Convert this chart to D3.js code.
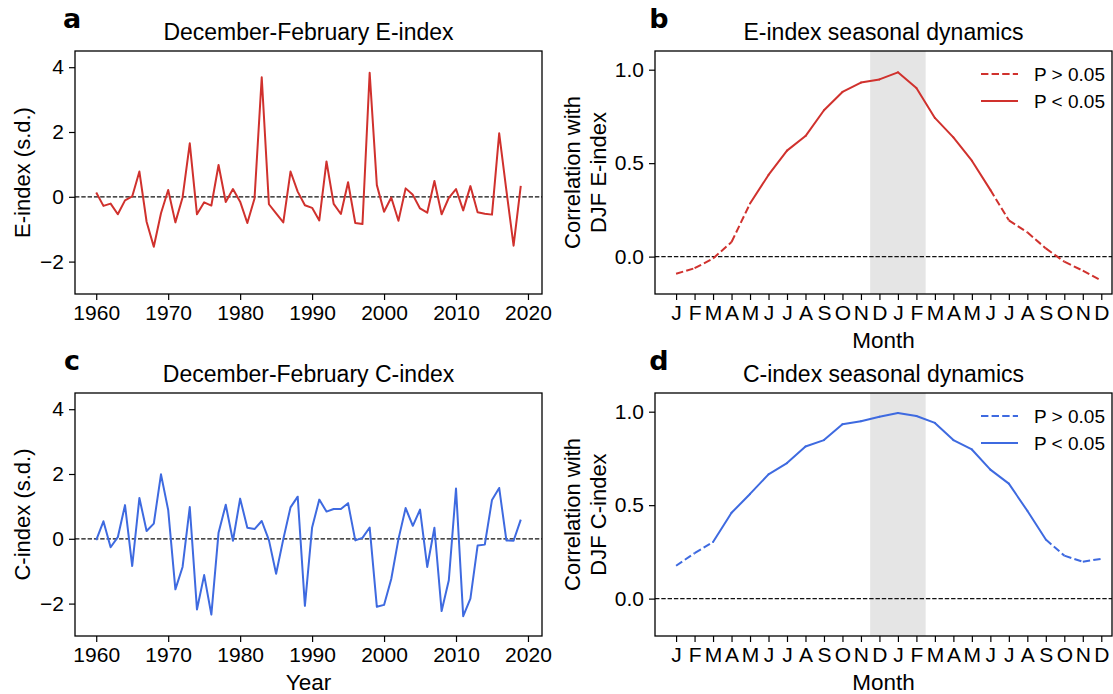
<!DOCTYPE html>
<html>
<head>
<meta charset="utf-8">
<script src="https://cdn.jsdelivr.net/npm/d3@7"></script>
<style>
  body { margin: 0; background: #fff; }
  text { font-family: "Liberation Sans", Arial, Helvetica, sans-serif; fill: #000; }
  .axis path, .axis line { stroke: #000; stroke-width: 1.2; }
  .axis text { font-size: 21px; }
</style>
</head>
<body>
<div id="canvas"></div>
<script>
const w = 1113, h = 694;

// DJF indices, 1960-2019
const years = d3.range(1960, 2020);
const eIndex = [0.13, -0.28, -0.21, -0.54, -0.11, 0.01, 0.78, -0.77, -1.54, -0.51,
  0.21, -0.79, -0.02, 1.65, -0.54, -0.17, -0.27, 0.98, -0.16, 0.24,
  -0.15, -0.81, -0.05, 3.69, -0.23, -0.51, -0.79, 0.78, 0.16, -0.26,
  -0.34, -0.73, 1.09, -0.22, -0.53, 0.45, -0.81, -0.84, 3.83, 0.36,
  -0.46, -0.02, -0.74, 0.26, 0.06, -0.36, -0.49, 0.49, -0.54, -0.03,
  0.24, -0.42, 0.33, -0.48, -0.52, -0.55, 1.96, 0.2, -1.51, 0.34];
const cIndex = [-0.04, 0.54, -0.26, 0.05, 1.04, -0.84, 1.26, 0.24, 0.47, 1.99,
  0.89, -1.56, -0.87, 0.98, -2.18, -1.12, -2.34, 0.19, 1.05, -0.06,
  1.24, 0.34, 0.30, 0.55, -0.04, -1.08, -0.01, 0.97, 1.30, -2.07,
  0.35, 1.21, 0.84, 0.92, 0.92, 1.10, -0.05, 0.03, 0.35, -2.10,
  -2.04, -1.24, -0.01, 0.95, 0.40, 0.90, -0.87, 0.34, -2.23, -1.28,
  1.55, -2.39, -1.85, -0.21, -0.18, 1.20, 1.57, -0.05, -0.06, 0.59];

// seasonal correlation with DJF index, two calendar years
const months = ["J","F","M","A","M","J","J","A","S","O","N","D",
                "J","F","M","A","M","J","J","A","S","O","N","D"];
const eCorr = [-0.092, -0.062, -0.01, 0.078, 0.284, 0.437, 0.567, 0.645, 0.783, 0.881, 0.931, 0.948,
               0.986, 0.902, 0.742, 0.638, 0.513, 0.357, 0.194, 0.130, 0.044, -0.027, -0.075, -0.128];
const eSig  = [0,0,0,0,1,1,1,1,1,1,1,1, 1,1,1,1,1,1,0,0,0,0,0,0];
const cCorr = [0.176, 0.243, 0.303, 0.459, 0.560, 0.665, 0.725, 0.814, 0.848, 0.933, 0.949, 0.973,
               0.993, 0.977, 0.940, 0.848, 0.798, 0.690, 0.615, 0.470, 0.316, 0.230, 0.197, 0.213];
const cSig  = [0,0,1,1,1,1,1,1,1,1,1,1, 1,1,1,1,1,1,1,1,1,0,0,0];
const djf = [10.5, 13.5];

const red = "#d0312d", blue = "#3e6ae0";
const yearTicks = [1960, 1970, 1980, 1990, 2000, 2010, 2020];
const indexTicks = [-2, 0, 2, 4];
const corrTicks = [0, 0.5, 1.0];

let svg = d3.select("#canvas").append("svg")
  .attr("width", w).attr("height", h)
  .attr("viewBox", [0, 0, w, h]);

const fmtMinus = d => d < 0 ? "\u2212" + Math.abs(d) : String(d);

function frame(b) {
  svg.append("rect")
    .attr("x", b.x0).attr("y", b.y0)
    .attr("width", b.x1 - b.x0).attr("height", b.y1 - b.y0)
    .attr("fill", "none").attr("stroke", "#000").attr("stroke-width", 1.3);
}

function zeroLine(b, y) {
  svg.append("line")
    .attr("x1", b.x0).attr("x2", b.x1)
    .attr("y1", y(0)).attr("y2", y(0))
    .attr("stroke", "#111").attr("stroke-width", 1.2)
    .attr("stroke-dasharray", "4.4,1.9");
}

function labels(b, letter, letterDx, title, xlab, ylab) {
  svg.append("text").attr("x", b.x0 + letterDx).attr("y", b.y0 - 23)
    .attr("text-anchor", "middle")
    .style("font-family", "'DejaVu Sans', sans-serif")
    .style("font-weight", "bold").style("font-size", "27px")
    .text(letter);
  svg.append("text").attr("x", (b.x0 + b.x1) / 2).attr("y", b.y0 - 11)
    .attr("text-anchor", "middle").style("font-size", "23px")
    .text(title);
  if (xlab) {
    svg.append("text").attr("x", (b.x0 + b.x1) / 2).attr("y", b.y1 + 54)
      .attr("text-anchor", "middle").style("font-size", "22.5px")
      .text(xlab);
  }
  const cy = (b.y0 + b.y1) / 2;
  ylab.forEach((t, i) => {
    const lx = ylab.length === 1 ? b.x0 - 53 : b.x0 - 83 + i * 26;
    svg.append("text")
      .attr("transform", `translate(${lx},${cy}) rotate(-90)`)
      .attr("text-anchor", "middle").attr("dy", "0.35em")
      .style("font-size", "22px")
      .text(t);
  });
}

function drawIndex(b, values, color, letter, title, xlab, ylab) {
  const x = d3.scaleLinear().domain([1957.05, 2021.95]).range([b.x0, b.x1]);
  const y = d3.scaleLinear().domain([-3, 4.5]).range([b.y1, b.y0]);

  svg.append("g").attr("class", "axis")
    .attr("transform", `translate(0,${b.y1})`)
    .call(d3.axisBottom(x).tickValues(yearTicks).tickFormat(d3.format("d"))
      .tickSize(6).tickSizeOuter(0).tickPadding(5))
    .select(".domain").remove();
  svg.append("g").attr("class", "axis")
    .attr("transform", `translate(${b.x0},0)`)
    .call(d3.axisLeft(y).tickValues(indexTicks).tickFormat(fmtMinus)
      .tickSize(6).tickSizeOuter(0).tickPadding(5))
    .select(".domain").remove();

  zeroLine(b, y);

  const line = d3.line().x((d, i) => x(years[i])).y(d => y(d));
  svg.append("path").datum(values)
    .attr("d", line)
    .attr("fill", "none").attr("stroke", color)
    .attr("stroke-width", 2).attr("stroke-linejoin", "round");

  frame(b);
  labels(b, letter, -3, title, xlab, ylab);
}

function drawSeason(b, values, sig, color, letter, title, ylab) {
  const x = d3.scaleLinear().domain([-1.14, 23.58]).range([b.x0, b.x1]);
  const y = d3.scaleLinear().domain([-0.2, 1.1]).range([b.y1, b.y0]);

  svg.append("rect")
    .attr("x", x(djf[0])).attr("y", b.y0)
    .attr("width", x(djf[1]) - x(djf[0])).attr("height", b.y1 - b.y0)
    .attr("fill", "#e5e5e5");

  svg.append("g").attr("class", "axis")
    .attr("transform", `translate(0,${b.y1})`)
    .call(d3.axisBottom(x).tickValues(d3.range(months.length))
      .tickFormat(i => months[i])
      .tickSize(6).tickSizeOuter(0).tickPadding(5))
    .select(".domain").remove();
  svg.append("g").attr("class", "axis")
    .attr("transform", `translate(${b.x0},0)`)
    .call(d3.axisLeft(y).tickValues(corrTicks).tickFormat(d3.format(".1f"))
      .tickSize(6).tickSizeOuter(0).tickPadding(5))
    .select(".domain").remove();

  zeroLine(b, y);

  // solid where both ends are significant, dashed otherwise
  const pts = values.map((v, i) => ({i: i, v: v, s: sig[i]}));
  const segLine = d3.line().x(d => x(d.i)).y(d => y(d.v));
  for (let k = 0; k < pts.length - 1; k++) {
    const isSolid = pts[k].s && pts[k + 1].s;
    svg.append("path").datum([pts[k], pts[k + 1]])
      .attr("d", segLine)
      .attr("fill", "none").attr("stroke", color)
      .attr("stroke-width", 2).attr("stroke-linecap", isSolid ? "round" : "butt")
      .attr("stroke-dasharray", isSolid ? null : "7.4,3.2");
  }

  // legend
  const lg = svg.append("g");
  [["P > 0.05", "7.4,3.2", 0], ["P < 0.05", null, 27]].forEach(([t, dash, dy]) => {
    lg.append("line")
      .attr("x1", b.x1 - 131).attr("x2", b.x1 - 94)
      .attr("y1", b.y0 + 23 + dy).attr("y2", b.y0 + 23 + dy)
      .attr("stroke", color).attr("stroke-width", 2)
      .attr("stroke-dasharray", dash);
    lg.append("text")
      .attr("x", b.x1 - 78).attr("y", b.y0 + 23 + dy)
      .attr("dy", "0.35em").style("font-size", "19px")
      .text(t);
  });

  frame(b);
  labels(b, letter, 4, title, "Month", ylab);
}

const A = {x0: 75, x1: 542, y0: 51, y1: 294};
const B = {x0: 655, x1: 1112, y0: 51, y1: 294};
const C = {x0: 75, x1: 542, y0: 393, y1: 636};
const D = {x0: 655, x1: 1112, y0: 393, y1: 636};

drawIndex(A, eIndex, red, "a", "December-February E-index", null, ["E-index (s.d.)"]);
drawSeason(B, eCorr, eSig, red, "b", "E-index seasonal dynamics", ["Correlation with", "DJF E-index"]);
drawIndex(C, cIndex, blue, "c", "December-February C-index", "Year", ["C-index (s.d.)"]);
drawSeason(D, cCorr, cSig, blue, "d", "C-index seasonal dynamics", ["Correlation with", "DJF C-index"]);
</script>
</body>
</html>
